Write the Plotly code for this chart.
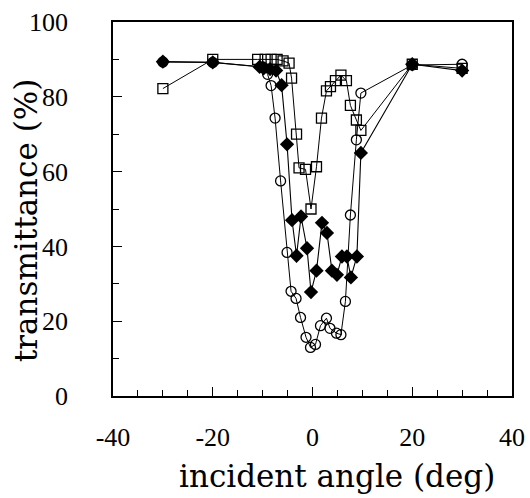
import plotly.graph_objects as go

# open squares
sq_x = [-30, -20, -11, -9.5, -8.3, -7.1, -5.9, -4.7, -4.2, -3.2, -2.7, -1.4, -0.3, 0.8, 1.8, 2.8, 3.6, 4.6, 5.7, 6.8, 7.6, 8.8, 9.7, 20, 30]
sq_y = [82.2, 90, 90, 90, 90, 90, 89.6, 89, 85, 70, 61, 60.6, 50, 61.3, 74.3, 81.6, 82.7, 84.3, 85.8, 84.3, 77.7, 73.8, 71, 88.7, 87.6]

# open circles
ci_x = [-30, -20, -10, -9, -8.3, -7.5, -6.4, -5.1, -4.3, -3.3, -2.4, -1.3, -0.4, 0.6, 1.6, 2.8, 3.5, 4.8, 5.7, 6.6, 7.6, 8.8, 9.7, 20, 30]
ci_y = [89.3, 89.2, 88, 86, 83, 74.3, 57.5, 38.4, 28, 26.1, 21, 15.7, 13, 13.8, 18.8, 20.8, 18.1, 16.8, 16.4, 25.3, 48.4, 68.5, 81, 88.5, 88.7]

# filled diamonds
di_x = [-30, -20, -10.6, -9.8, -8.5, -7.3, -6.2, -5.1, -4.1, -3.2, -2.3, -1.1, -0.3, 0.8, 1.9, 2.9, 3.9, 4.9, 5.9, 6.9, 7.7, 8.9, 9.7, 20, 30]
di_y = [89.4, 89.2, 88, 87.6, 87.4, 87, 83.1, 67.3, 47, 37.5, 48, 39.5, 27.8, 33.5, 46.3, 43.6, 33.5, 32.4, 37.3, 37.3, 31.7, 37.3, 65, 88.7, 87]

x_ticks = [-40, -20, 0, 20, 40]
x_labels = ["-40", "-20", "0", "20", "40"]
y_ticks = [0, 20, 40, 60, 80, 100]
y_labels = ["0", "20", "40", "60", "80", "100"]

fig = go.Figure()
fig.add_trace(go.Scatter(x=sq_x, y=sq_y, mode="lines+markers",
                         line=dict(color="black", width=1),
                         marker=dict(symbol="square-open", size=10, color="black", line=dict(width=1.3))))
fig.add_trace(go.Scatter(x=ci_x, y=ci_y, mode="lines+markers",
                         line=dict(color="black", width=1),
                         marker=dict(symbol="circle-open", size=10, color="black", line=dict(width=1.3))))
fig.add_trace(go.Scatter(x=di_x, y=di_y, mode="lines+markers",
                         line=dict(color="black", width=1.1),
                         marker=dict(symbol="diamond", size=11, color="black")))

tick_font = dict(family="Liberation Serif", color="black", size=26)
title_font = dict(family="DejaVu Serif", color="black", size=31)

fig.update_layout(
    width=530, height=498,
    margin=dict(l=113, r=18, t=22, b=102),
    paper_bgcolor="white", plot_bgcolor="white",
    showlegend=False,
    font=tick_font,
    xaxis=dict(range=[-40, 40], tickvals=x_ticks, ticktext=x_labels, ticks="inside", ticklen=9, tickwidth=1.3,
               tickcolor="black", showline=True, linecolor="black", linewidth=1.5, mirror=True,
               showgrid=False, zeroline=False, automargin=False, tickfont=tick_font,
               minor=dict(ticks="inside", ticklen=6, dtick=5, tickcolor="black", tickwidth=1.1, showgrid=False),
               ticklabelstandoff=17),
    yaxis=dict(range=[0, 100], tickvals=y_ticks, ticktext=y_labels, ticks="inside", ticklen=9, tickwidth=1.3,
               tickcolor="black", showline=True, linecolor="black", linewidth=1.5, mirror=True,
               showgrid=False, zeroline=False, automargin=False, tickfont=tick_font,
               minor=dict(ticks="inside", ticklen=6, dtick=10, tickcolor="black", tickwidth=1.1, showgrid=False),
               ticklabelstandoff=38),
    annotations=[
        dict(text="incident angle (deg)", xref="paper", yref="paper", x=0.561, y=0,
             xanchor="center", yanchor="middle", yshift=-80, showarrow=False, font=title_font),
        dict(text="transmittance (%)", xref="paper", yref="paper", x=0, y=0.47,
             xanchor="center", yanchor="middle", xshift=-87, textangle=-90, showarrow=False, font=title_font),
    ],
)

fig.write_html("out.html", config={"displayModeBar": False},
               post_script="document.body.style.margin='0';document.body.style.padding='0';")
